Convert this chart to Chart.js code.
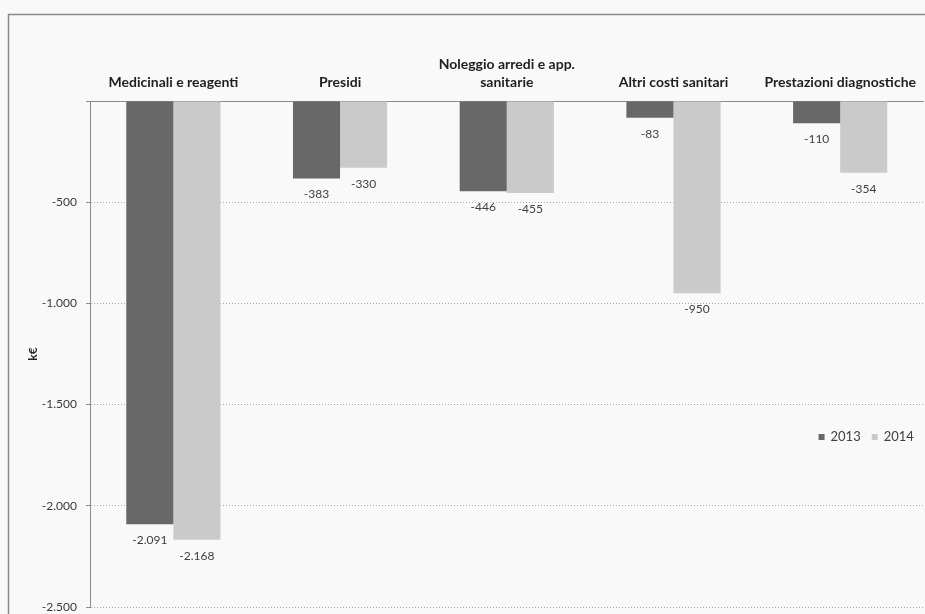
<!DOCTYPE html>
<html lang="it">
<head>
<meta charset="utf-8">
<title>Costi sanitari 2013-2014</title>
<script src="https://cdn.jsdelivr.net/npm/chart.js@4/dist/chart.umd.min.js"></script>
<style>
  html, body { margin: 0; padding: 0; background: #f9f9f9; }
  #wrap { position: relative; width: 925px; height: 614px; }
</style>
</head>
<body>
<div id="wrap"><canvas id="costi-chart" width="925" height="614"></canvas></div>
<script>
// categorie di spesa e variazioni (k€)
const categorie = [
    'Medicinali e reagenti',
    'Presidi',
    ['Noleggio arredi e app.', 'sanitarie'],
    'Altri costi sanitari',
    'Prestazioni diagnostiche'
];
const anni = ['2013', '2014'];
const valori2013 = [-2091, -383, -446, -83, -110];
const valori2014 = [-2168, -330, -455, -950, -354];
const tickAsseY = [0, -500, -1000, -1500, -2000, -2500];

const COL_2013 = '#686868';
const COL_2014 = '#cacaca';
const FONT = "Lato, 'Open Sans', sans-serif";

// separatore delle migliaia all'italiana
function fmt(v) {
    const s = String(Math.abs(v)).replace(/\B(?=(\d{3})+(?!\d))/g, '.');
    return v < 0 ? '-' + s : s;
}

// cornice del riquadro
const cornice = {
    id: 'cornice',
    beforeDraw(chart) {
        const ctx = chart.ctx;
        ctx.save();
        ctx.strokeStyle = '#8a8a8a';
        ctx.lineWidth = 1.5;
        ctx.beginPath();
        ctx.moveTo(8.5, chart.height);
        ctx.lineTo(8.5, 14.5);
        ctx.lineTo(chart.width, 14.5);
        ctx.stroke();
        ctx.restore();
    }
};

// etichette dei valori sotto le barre
const etichetteValori = {
    id: 'etichetteValori',
    afterDatasetsDraw(chart) {
        const ctx = chart.ctx;
        ctx.save();
        ctx.font = '12px ' + FONT;
        ctx.fillStyle = '#404040';
        ctx.textAlign = 'center';
        ctx.textBaseline = 'middle';
        chart.data.datasets.forEach((ds, i) => {
            chart.getDatasetMeta(i).data.forEach((bar, j) => {
                ctx.fillText(fmt(ds.data[j]), bar.x, bar.y + 16);
            });
        });
        ctx.restore();
    }
};

// legenda a destra, dentro l'area del grafico
const legendaAnni = {
    id: 'legendaAnni',
    afterDraw(chart) {
        const ctx = chart.ctx;
        const area = chart.chartArea;
        let x = area.right - 105;
        const y = area.top + 336;
        ctx.save();
        ctx.font = '13px ' + FONT;
        ctx.textBaseline = 'middle';
        chart.data.datasets.forEach(ds => {
            ctx.fillStyle = ds.backgroundColor;
            ctx.fillRect(x, y - 3, 6, 6);
            ctx.fillStyle = '#404040';
            ctx.fillText(ds.label, x + 12, y);
            x += 12 + ctx.measureText(ds.label).width + 11;
        });
        ctx.restore();
    }
};

new Chart(document.getElementById('costi-chart'), {
    type: 'bar',
    data: {
        labels: categorie,
        datasets: [
            { label: anni[0], data: valori2013, backgroundColor: COL_2013 },
            { label: anni[1], data: valori2014, backgroundColor: COL_2014 }
        ]
    },
    options: {
        responsive: false,
        animation: false,
        layout: { padding: { left: 0, right: 0, top: 0, bottom: 7 } },
        datasets: { bar: { categoryPercentage: 0.565, barPercentage: 1 } },
        plugins: {
            legend: { display: false },
            tooltip: { enabled: false }
        },
        scales: {
            x: {
                position: 'top',
                afterFit: s => { s.height = 101; },
                grid: { display: false, drawTicks: false },
                border: { display: true, color: '#8c8c8c', width: 1 },
                ticks: {
                    padding: 9,
                    maxRotation: 0,
                    autoSkip: false,
                    color: '#1e1e1e',
                    font: { family: FONT, size: 14, weight: 'bold', lineHeight: 1.33 }
                }
            },
            y: {
                min: tickAsseY[tickAsseY.length - 1],
                max: tickAsseY[0],
                afterFit: s => {
                    s.width = 90;
                    s.paddingTop = 0;
                    s.paddingBottom = 0;
                },
                afterBuildTicks: s => { s.ticks = tickAsseY.map(v => ({ value: v })); },
                grid: {
                    color: c => c.tick && c.tick.value === 0 ? 'rgba(0,0,0,0)' : '#a8a8a8',
                    tickColor: '#8c8c8c',
                    tickLength: 4,
                    tickBorderDash: []
                },
                border: { display: true, color: '#8c8c8c', width: 1, dash: [1, 2] },
                ticks: {
                    padding: 9,
                    color: '#3a3a3a',
                    font: { family: FONT, size: 12 },
                    callback: v => v === 0 ? '' : fmt(v)
                },
                title: {
                    display: true,
                    text: 'k€',
                    color: '#1e1e1e',
                    padding: { top: 26, bottom: 0 },
                    font: { family: FONT, size: 12, weight: 'bold' }
                }
            }
        }
    },
    plugins: [cornice, etichetteValori, legendaAnni]
});
</script>
</body>
</html>
